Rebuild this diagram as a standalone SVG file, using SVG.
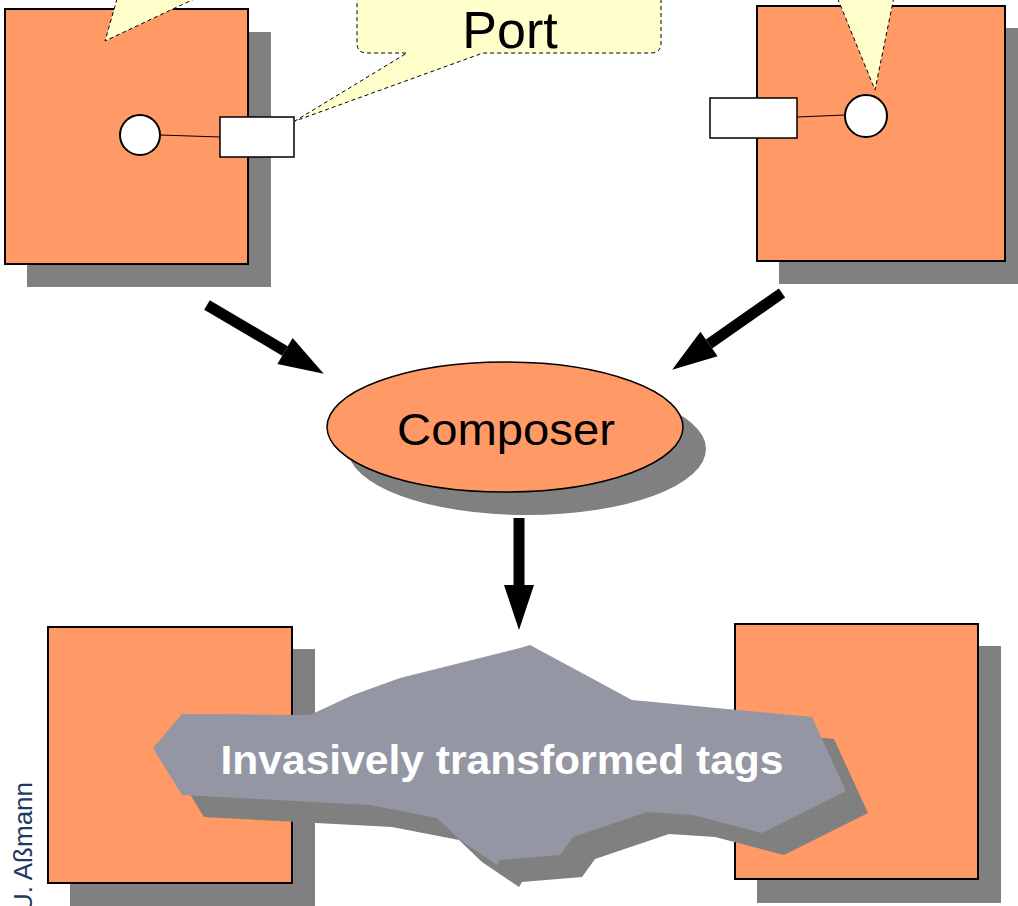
<svg xmlns="http://www.w3.org/2000/svg" width="1018" height="906" viewBox="0 0 1018 906">
<style>
.box{fill:#ff9966;stroke:#000;stroke-width:2}
.shadow{fill:#808080}
.port{fill:#fff;stroke:#000;stroke-width:1.5}
.comp{fill:#fff;stroke:#000;stroke-width:2}
.wire{stroke:#000;stroke-width:1;fill:none}
.callout{fill:#ffffcc;stroke:#000;stroke-width:1;stroke-dasharray:4,3}
.arrow{stroke:#000;stroke-width:11;fill:none}
.big{font-family:"Liberation Sans",Arial,sans-serif;fill:#000}
</style>
<defs>
<marker id="head" markerUnits="userSpaceOnUse" markerWidth="46" markerHeight="30" refX="0" refY="15" orient="auto" overflow="visible">
<path d="M0,0 L45,15 L0,30 Z" fill="#000"/>
</marker>
</defs>
<rect width="1018" height="906" fill="#fff"/>

<g id="component-top-left">
<rect class="shadow" x="27" y="32" width="244" height="255"/>
<rect class="box" x="5" y="9" width="243" height="255"/>
<line class="wire" x1="160" y1="135" x2="220" y2="137"/>
<circle class="comp" cx="140" cy="135" r="20"/>
<rect class="port" x="220" y="117" width="74" height="40"/>
</g>

<g id="component-top-right">
<rect class="shadow" x="779" y="28" width="248" height="256"/>
<rect class="box" x="757" y="6" width="248" height="255"/>
<line class="wire" x1="797" y1="117" x2="845" y2="115"/>
<circle class="comp" cx="866" cy="116" r="21"/>
<rect class="port" x="710" y="98" width="87" height="40"/>
</g>

<g id="callout-top-left">
<path class="callout" d="M119,-8 L105,41 L209,-8 Z"/>
</g>
<g id="callout-top-right">
<path class="callout" d="M835,-8 L875,90 L895,-8 Z"/>
</g>
<g id="callout-port">
<path class="callout" d="M357,-40 H661 V43 Q661,53 651,53 H483 L295,121 L407,53 H367 Q357,53 357,43 Z"/>
<text class="big" x="510" y="48" font-size="52" text-anchor="middle">Port</text>
</g>

<g id="composer">
<ellipse class="shadow" cx="527" cy="449" rx="179" ry="66"/>
<ellipse cx="505" cy="427" rx="178" ry="65" fill="#ff9966" stroke="#000" stroke-width="1.5"/>
<text class="big" x="506" y="445" font-size="45" text-anchor="middle" textLength="218" lengthAdjust="spacingAndGlyphs">Composer</text>
</g>

<g id="component-bottom-left">
<rect class="shadow" x="70" y="649" width="245" height="270"/>
<rect class="box" x="48" y="627" width="244" height="256"/>
</g>

<g id="component-bottom-right">
<rect class="shadow" x="757" y="646" width="244" height="257"/>
<rect class="box" x="735" y="624" width="243" height="255"/>
</g>

<g id="tags">
<polygon class="shadow" transform="translate(22,22)" points="530,645 632,700 812,717 846,791 762,833 693,815 647,812 573,837 560,855 500,860 497,865 460,840 437,818 370,805 182,795 153,748 182,714 310,715 353,695 400,678 520,648"/>
<polygon fill="#9496a3" points="530,645 632,700 812,717 846,791 762,833 693,815 647,812 573,837 560,855 500,860 497,865 460,840 437,818 370,805 182,795 153,748 182,714 310,715 353,695 400,678 520,648"/>
<text x="502" y="774" font-family="'Liberation Sans',Arial,sans-serif" font-weight="bold" font-size="41" fill="#fff" text-anchor="middle" textLength="563" lengthAdjust="spacingAndGlyphs">Invasively transformed tags</text>
</g>

<g id="connectors">
<line class="arrow" x1="207" y1="305" x2="285" y2="351" marker-end="url(#head)"/>
<line class="arrow" x1="782" y1="293" x2="709" y2="344" marker-end="url(#head)"/>
<line class="arrow" x1="519" y1="518" x2="519" y2="585" marker-end="url(#head)"/>
</g>

<g id="author">
<text transform="translate(32,782) rotate(-90)" x="0" y="0" font-family="'Liberation Sans',Arial,sans-serif" font-size="25" fill="#1f3864" text-anchor="end" textLength="130" lengthAdjust="spacingAndGlyphs">U. Aßmann</text>
</g>
</svg>
